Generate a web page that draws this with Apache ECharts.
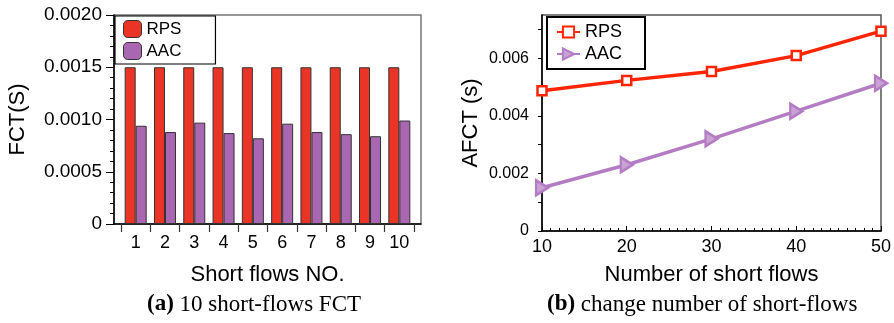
<!DOCTYPE html>
<html>
<head>
<meta charset="utf-8">
<script src="https://cdn.jsdelivr.net/npm/echarts@6/dist/echarts.min.js"></script>
<style>
  html, body { margin: 0; padding: 0; background: #fff; }
  #main { width: 894px; height: 323px; }
</style>
</head>
<body>
<div id="main"></div>
<script>
// (a) 10 short flows
const flowNo = [1, 2, 3, 4, 5, 6, 7, 8, 9, 10];
const rpsFct = [0.0015, 0.0015, 0.0015, 0.0015, 0.0015, 0.0015, 0.0015, 0.0015, 0.0015, 0.0015];
const aacFct = [0.00094, 0.00088, 0.00097, 0.00087, 0.00082, 0.00096, 0.00088, 0.00086, 0.00084, 0.00099];
const flowBounds = [0.5, 1.5, 2.5, 3.5, 4.5, 5.5, 6.5, 7.5, 8.5, 9.5, 10.5];

// (b) number of short flows
const flowCount = [10, 20, 30, 40, 50];
const rpsAfct = [0.00487, 0.00523, 0.00554, 0.00609, 0.00694];
const aacAfct = [0.0015, 0.0023, 0.0032, 0.00416, 0.00513];
const afctLabels = [0, 0.002, 0.004, 0.006];
const afctTicks = [0, 0.001, 0.002, 0.003, 0.004, 0.005, 0.006, 0.007];

const sans = 'Liberation Sans, Arial, sans-serif';
const serif = 'Liberation Serif, Times New Roman, serif';
const RED_BAR = '#ea3526';
const PURPLE_BAR = '#a867b0';
const RED_LINE = '#ff2400';
const PURPLE_LINE = '#b37cc3';

const chart = echarts.init(document.getElementById('main'));

const captionStyle = {
  fontFamily: serif, fontSize: 23, fontWeight: 'normal', color: '#000',
  rich: { b: { fontFamily: serif, fontSize: 23, fontWeight: 'bold', color: '#000' } }
};

const option = {
  animation: false,
  grid: [
    { left: 114, right: 473, top: 15, bottom: 99, show: true, borderColor: '#777', borderWidth: 1.5 },
    { left: 542, right: 13, top: 15, bottom: 92, show: true, borderColor: '#555', borderWidth: 1.5 }
  ],
  title: [
    { text: '{b|(a)} 10 short-flows FCT', left: 147, top: 293, padding: 0, textStyle: captionStyle },
    { text: '{b|(b)} change number of short-flows', left: 547, top: 293, padding: 0, textStyle: captionStyle }
  ],
  legend: [
    {
      data: ['RPS', 'AAC'],
      orient: 'vertical',
      left: 115, top: 16,
      padding: [4, 34, 4, 8],
      itemWidth: 18, itemHeight: 17, itemGap: 4,
      icon: 'roundRect',
      borderColor: '#000', borderWidth: 1.2, borderRadius: 0,
      itemStyle: { borderColor: '#333', borderWidth: 1 },
      textStyle: { fontFamily: sans, fontSize: 17, color: '#000', lineHeight: 17 }
    },
    {
      data: ['RPS ', 'AAC '],
      orient: 'vertical',
      left: 547, top: 17,
      padding: [5, 18, 5, 9],
      itemWidth: 23, itemHeight: 14, itemGap: 2,
      borderColor: '#000', borderWidth: 2, borderRadius: 0,
      textStyle: { fontFamily: sans, fontSize: 18, color: '#000', lineHeight: 20 }
    }
  ],
  xAxis: [
    {
      gridIndex: 0, type: 'value', min: 0.26, max: 10.74,
      name: 'Short flows NO.', nameLocation: 'middle', nameGap: 40,
      nameTextStyle: { fontFamily: sans, fontSize: 22, color: '#000' },
      axisLine: { show: true, onZero: false, lineStyle: { color: '#000', width: 1.5 } },
      axisTick: { show: true, length: 8, customValues: flowBounds, lineStyle: { color: '#333', width: 1.2 } },
      axisLabel: { customValues: flowNo, margin: 10, fontFamily: sans, fontSize: 18, color: '#000' },
      splitLine: { show: false }
    },
    {
      gridIndex: 1, type: 'value', min: 10, max: 50, interval: 10,
      name: 'Number of short flows', nameLocation: 'middle', nameGap: 33,
      nameTextStyle: { fontFamily: sans, fontSize: 22, color: '#000' },
      axisLine: { show: true, onZero: false, lineStyle: { color: '#000', width: 1.5 } },
      axisTick: { show: true, inside: true, length: 5, lineStyle: { color: '#000' } },
      minorTick: { show: true, splitNumber: 10, length: 3, lineStyle: { color: '#000' } },
      axisLabel: { margin: 7, fontFamily: sans, fontSize: 18, color: '#000' },
      splitLine: { show: false }
    }
  ],
  yAxis: [
    {
      gridIndex: 0, type: 'value', min: 0, max: 0.002, interval: 0.0005,
      name: 'FCT(S)', nameLocation: 'middle', nameGap: 85,
      nameTextStyle: { fontFamily: sans, fontSize: 22, color: '#000' },
      axisLine: { show: true, lineStyle: { color: '#000', width: 1.5 } },
      axisTick: { show: true, length: 8, lineStyle: { color: '#000' } },
      minorTick: { show: true, splitNumber: 5, length: 4, lineStyle: { color: '#000' } },
      axisLabel: {
        margin: 12, fontFamily: sans, fontSize: 19, color: '#000',
        formatter: v => (v === 0 ? '0' : v.toFixed(4))
      },
      splitLine: { show: false }
    },
    {
      gridIndex: 1, type: 'value', min: 0, max: 0.0075,
      name: 'AFCT (s)', nameLocation: 'middle', nameGap: 60,
      nameTextStyle: { fontFamily: sans, fontSize: 22, color: '#000' },
      axisLine: { show: true, lineStyle: { color: '#000', width: 1.5 } },
      axisTick: { show: true, length: 4, customValues: afctTicks, lineStyle: { color: '#000' } },
      axisLabel: {
        customValues: afctLabels, margin: 13, fontFamily: sans, fontSize: 16, color: '#000',
        formatter: v => (v === 0 ? '0' : v.toFixed(3))
      },
      splitLine: { show: false }
    }
  ],
  series: [
    {
      name: 'RPS', type: 'bar', xAxisIndex: 0, yAxisIndex: 0,
      data: flowNo.map((x, i) => [x, rpsFct[i]]),
      barWidth: 11, barGap: '0%',
      itemStyle: { color: RED_BAR, borderColor: '#333', borderWidth: 1 }
    },
    {
      name: 'AAC', type: 'bar', xAxisIndex: 0, yAxisIndex: 0,
      data: flowNo.map((x, i) => [x, aacFct[i]]),
      barWidth: 11, barGap: '0%',
      itemStyle: { color: PURPLE_BAR, borderColor: '#333', borderWidth: 1 }
    },
    {
      name: 'RPS ', type: 'line', xAxisIndex: 1, yAxisIndex: 1,
      data: flowCount.map((x, i) => [x, rpsAfct[i]]),
      symbol: 'rect', symbolSize: 9,
      lineStyle: { color: RED_LINE, width: 3.5 },
      itemStyle: { color: '#fff', borderColor: RED_LINE, borderWidth: 2.5 },
      z: 3
    },
    {
      name: 'AAC ', type: 'line', xAxisIndex: 1, yAxisIndex: 1,
      data: flowCount.map((x, i) => [x, aacAfct[i]]),
      symbol: 'triangle', symbolRotate: -90, symbolSize: [15, 12],
      lineStyle: { color: PURPLE_LINE, width: 3.5 },
      itemStyle: { color: '#c9a2d4', borderColor: PURPLE_LINE, borderWidth: 2.5 },
      z: 3
    }
  ]
};

chart.setOption(option);
window.addEventListener('resize', chart.resize);
</script>
</body>
</html>
